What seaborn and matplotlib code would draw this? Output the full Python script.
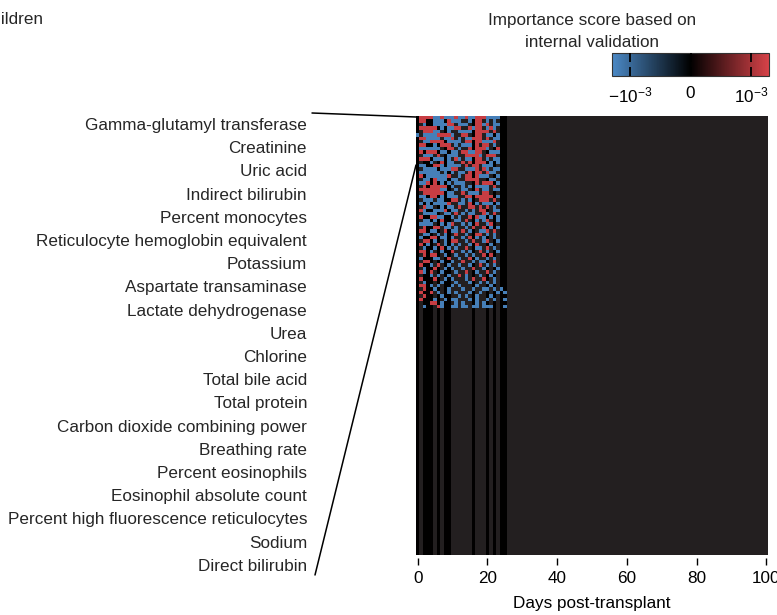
import numpy as np
import pandas as pd
import matplotlib
matplotlib.use("Agg")
import matplotlib.pyplot as plt
import seaborn as sns
from matplotlib.colors import LinearSegmentedColormap
from matplotlib.lines import Line2D

# ---------------- data ----------------
days = list(range(0, 101))
n_features = 128
xtick_days = [0, 20, 40, 60, 80, 100]

# per-day background for observed days 0..25: k = score 0 (black), g = missing
column_base = "kgkkkgkgkkggggggkgggkgkgkk"

# r = positive importance, b = negative importance, . = background
pattern_rows = [
    ".rrrr bbrbb brbbr bbrrr bbbb. .",
    ".rr.. bbb.r bbb.. b.rr. b.b.. .",
    "..b.. bbbbr r.bbb ..rrb r.bb. .",
    ".rrrr r.b.b brr.. rbrr. brb.. .",
    "..rrr bb..b ..bbb b.rrr r.r.. .",
    "b.bbb brrrr b..rr ..rr. bb.b. .",
    ".rrbb bb.bb r.b.b brrr. r.bb. .",
    "..bbr rrr.b bbb.r r.rrb bbr.. .",
    ".rr.. b.rrr .b.bb b.r.r r.b.. .",
    ".bbbb bb..r r.b.. r.rrr b..r. .",
    ".r.rr r.bb. bb.rr bbrr. .bbb. .",
    "..bbb .r..b bb..r rrrb. rrr.. .",
    ".rrr. bbb.b .rb.b b.rr. b.bb. .",
    "....b ..r.b b..r. r.rrr .b.b. .",
    ".bb.. rrb.b bbb.r .rr.b bb... .",
    "..bbb b.bbb rr..b bbr.r b.bb. .",
    ".bbbb bb.b. b.bb. r.rr. rbb.. .",
    ".r.bb bbbbr ..b.r r.rbb b..b. .",
    "..bb. rbbb. bb..r rrr.. .bb.. .",
    ".bbr. r.b.b .bbb. ..r.r rr.b. .",
    "..r.r rrrr. b..b. b.bbb b.r.. .",
    ".rrrr rrbb. .b.bb ..r.b b.bb. .",
    "..rrr rrr.b b..r. bbb.r r.... .",
    ".bb.r r.b.b bb..r r.rrr rr.b. .",
    "..bbb .bb.. rr.b. b..rr r.r.. .",
    ".b.b. bbbbr ..bb. r.b.b bb.b. .",
    "..rbb ..b.b b.r.. rr.r. r.b.. .",
    ".rb.. bbbr. bb..b .b.rr ..bb. .",
    "..bbb b..bb .r.b. bb..r b.r.. .",
    ".r..r rbb.. b.b.. r.rbb .b.b. .",
    "..bb. b.r.. .bb.r ..b.b r..b. .",
    ".bbbb ..b.b r..b. b.r.. br... .",
    "..r.. rr.bb .b..b .r..r .b.b. .",
    ".rr.b b..r. bb.r. b..bb r.r.. .",
    "..bb. .b.b. .r..b ..rr. b.b.. .",
    ".b..r r.bb. b..b. r.b.b ..b.. .",
    "..rr. b..b. rr..b .r..b r..b. .",
    ".r.b. .r.b. b.b.. b.r.. .b... .",
    "..b.. b.r.b .b..r ..bb. r.b.. .",
    ".rr.b ..b.. r..b. b..r. b..b. .",
    "..r.r r..b. .b..b .b..r .r... .",
    ".b... bb..r ..b.. r.b.. b.b.. .",
    "..rr. ..b.. b..r. .b.bb ..r.. .",
    ".r..b .r..b ..b.. b..r. b.b.. .",
    "..b.. r..b. b..b. .r..b ...b. .",
    ".rb.r ..b.. .b..r ..b.. r.b.. .",
    "....b .b..b ..r.b ...b. .b... .",
    ".r... r..b. b...b .r..r ..b.. .",
    "..b.. ..b.. .b... b..b. b.b.. .",
    ".rr.b .b... b.b.. ..b.. .b... .",
    "..r.. b...b ...b. .b..b b.b.b .",
    ".r..r .b..b .b... b..b. ...b. b",
    "..r.. ..b.. ..b.b ..b.. .b... .",
    ".r... b..b. bb... b.b.. b.b.. b",
    "....r r.b.. .b.b. ..b.b ..... .",
    "..b.. .rb.. bb.bb .bb.b bb... b",
]
cell_values = {"r": 1.2e-3, "b": -1.2e-3}

feature_labels = [
    "Gamma-glutamyl transferase", "Creatinine", "Uric acid", "Indirect bilirubin",
    "Percent monocytes", "Reticulocyte hemoglobin equivalent", "Potassium",
    "Aspartate transaminase", "Lactate dehydrogenase", "Urea", "Chlorine",
    "Total bile acid", "Total protein", "Carbon dioxide combining power",
    "Breathing rate", "Percent eosinophils", "Eosinophil absolute count",
    "Percent high fluorescence reticulocytes", "Sodium", "Direct bilirubin",
]

cbar_ticks = [-1e-3, 0, 1e-3]
cbar_ticklabels = [r"$-10^{-3}$", "0", r"$10^{-3}$"]
vlim = 1.3e-3

# ---------------- matrix ----------------
mat = np.full((n_features, len(days)), np.nan)
for j, ch in enumerate(column_base):
    if ch == "k":
        mat[:, j] = 0.0
for i, row in enumerate(pattern_rows):
    row = "".join(row.split())
    for j, ch in enumerate(row[:len(column_base)]):
        if ch in cell_values:
            mat[i, j] = cell_values[ch]
df = pd.DataFrame(mat, columns=days)

# ---------------- style ----------------
sns.set_style("white")
plt.rcParams["font.family"] = ["Liberation Sans", "DejaVu Sans"]
plt.rcParams["mathtext.fontset"] = "custom"
plt.rcParams["mathtext.rm"] = "Liberation Sans"
plt.rcParams["mathtext.it"] = "Liberation Sans:italic"
plt.rcParams["mathtext.default"] = "regular"
plt.rcParams["axes.axisbelow"] = False

W, H = 777, 615
fig = plt.figure(figsize=(W / 100, H / 100), dpi=100)
fx = lambda px: px / W
fy = lambda py: 1 - py / H
FS = 12.3

ax = fig.add_axes([fx(416), fy(555), fx(768) - fx(416), fy(116) - fy(555)])
cmap = LinearSegmentedColormap.from_list("imp", ["#4b89c6", "#000000", "#d64248"])
sns.heatmap(df, ax=ax, cmap=cmap, vmin=-vlim, vmax=vlim, cbar=False,
            xticklabels=False, yticklabels=False)
ax.set_facecolor("#231f20")
for s in ax.spines.values():
    s.set_visible(False)
ax.spines["bottom"].set_position(("outward", 2.5))
ax.set_xticks([days.index(d) + 0.5 for d in xtick_days])
ax.set_xticklabels([str(d) for d in xtick_days])
ax.tick_params(axis="x", bottom=True, length=5, width=1.0, color="black",
               pad=4, labelcolor="black", labelsize=FS)
ax.tick_params(axis="y", left=False)
ax.set_xlabel("Days post-transplant", fontsize=FS, labelpad=7, color="black")
ax.set_ylabel("")

# colorbar
cax = fig.add_axes([fx(612), fy(76), fx(769) - fx(612), fy(53) - fy(76)])
cb = fig.colorbar(ax.collections[0], cax=cax, orientation="horizontal", ticks=cbar_ticks)
cb.ax.set_axisbelow(False)
cb.ax.set_xticklabels(cbar_ticklabels)
cb.ax.tick_params(axis="x", direction="in", length=6.5, width=1.3, top=True, bottom=True,
                  color="black", pad=7, labelcolor="black", labelsize=FS)
cb.ax.minorticks_off()
cb.outline.set_linewidth(0.8)
cb.outline.set_edgecolor("#333333")

fig.text(fx(592), fy(25), "Importance score based on", ha="center", va="baseline", fontsize=FS)
fig.text(fx(592), fy(47), "internal validation", ha="center", va="baseline", fontsize=FS)

fig.text(fx(43), fy(24), "Children", ha="right", va="baseline", fontsize=FS)

# feature labels
for i, lab in enumerate(feature_labels):
    fig.text(fx(307), fy(130 + 23.2 * i), lab, ha="right", va="baseline", fontsize=FS)

# connector lines
fig.add_artist(Line2D([fx(312), fx(416)], [fy(113), fy(117)], transform=fig.transFigure,
                      color="black", lw=1.1))
fig.add_artist(Line2D([fx(315), fx(416)], [fy(575), fy(165)], transform=fig.transFigure,
                      color="black", lw=1.1))

fig.savefig("out.png", dpi=100)
